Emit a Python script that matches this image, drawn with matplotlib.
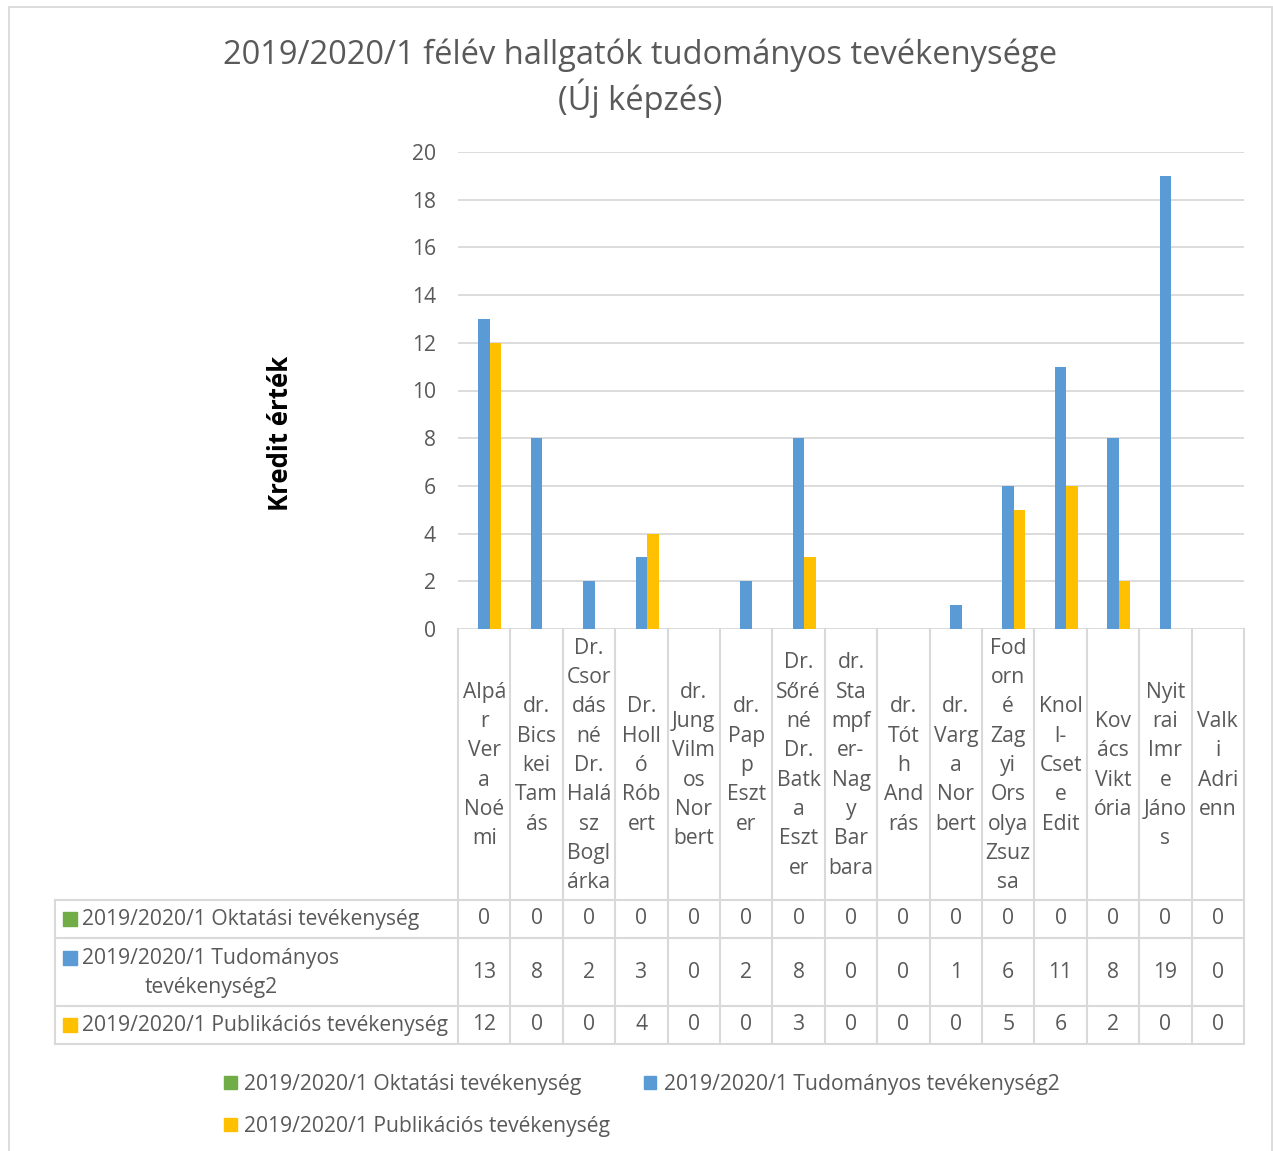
import matplotlib
matplotlib.use("Agg")
import matplotlib.pyplot as plt
from matplotlib.patches import Rectangle, Patch
import numpy as np

plt.rcParams['font.family'] = ['Open Sans', 'DejaVu Sans']

# ---------------- data ----------------
categories = [
    "Alpá\nr\nVer\na\nNoé\nmi",
    "dr.\nBics\nkei\nTam\nás",
    "Dr.\nCsor\ndás\nné\nDr.\nHalá\nsz\nBogl\nárka",
    "Dr.\nHoll\nó\nRób\nert",
    "dr.\nJung\nVilm\nos\nNor\nbert",
    "dr.\nPap\np\nEszt\ner",
    "Dr.\nSőré\nné\nDr.\nBatk\na\nEszt\ner",
    "dr.\nSta\nmpf\ner-\nNag\ny\nBar\nbara",
    "dr.\nTót\nh\nAnd\nrás",
    "dr.\nVarg\na\nNor\nbert",
    "Fod\norn\né\nZag\nyi\nOrs\nolya\nZsuz\nsa",
    "Knol\nl-\nCset\ne\nEdit",
    "Kov\nács\nVikt\nória",
    "Nyit\nrai\nImr\ne\nJáno\ns",
    "Valk\ni\nAdri\nenn",
]
oktatasi = [0, 0, 0, 0, 0, 0, 0, 0, 0, 0, 0, 0, 0, 0, 0]
tudomanyos = [13, 8, 2, 3, 0, 2, 8, 0, 0, 1, 6, 11, 8, 19, 0]
publikacios = [12, 0, 0, 4, 0, 0, 3, 0, 0, 0, 5, 6, 2, 0, 0]
series_names = ["2019/2020/1 Oktatási tevékenység",
                "2019/2020/1 Tudományos tevékenység2",
                "2019/2020/1 Publikációs tevékenység"]
table_labels = ["2019/2020/1 Oktatási tevékenység",
                "2019/2020/1 Tudományos\ntevékenység2",
                "2019/2020/1 Publikációs tevékenység"]
title = "2019/2020/1 félév hallgatók tudományos tevékenysége\n(Új képzés)"
ylabel = "Kredit érték"
yticks = [0, 2, 4, 6, 8, 10, 12, 14, 16, 18, 20]

colors = ["#70AD47", "#5B9BD5", "#FFC000"]
TXT = "#595959"
GRID = "#D9D9D9"
FS = 15.2

W, H = 1273, 1151
fig = plt.figure(figsize=(W / 100, H / 100), dpi=100)

def fx(px):
    return px / W

def fy(py):
    return 1 - py / H

# outer border
fig.patches.append(Rectangle((fx(9), fy(1160)), fx(1272) - fx(9), fy(7) - fy(1160),
                             transform=fig.transFigure, fill=False,
                             edgecolor=GRID, lw=1.3))

# ---------------- main chart ----------------
L, R, T, B = 458, 1244, 152, 629
ax = fig.add_axes([fx(L), fy(B), fx(R) - fx(L), fy(T) - fy(B)])
n = len(categories)
x = np.arange(n)
bw = 0.22
for i, (vals, c) in enumerate(zip([oktatasi, tudomanyos, publikacios], colors)):
    ax.bar(x + (i - 1) * bw, vals, width=bw, color=c, zorder=3)
ax.set_xlim(-0.5, n - 0.5)
ax.set_ylim(0, 20)
ax.set_yticks(yticks)
ax.yaxis.grid(True, color=GRID, lw=1.3, zorder=0)
ax.set_axisbelow(True)
for s in ax.spines.values():
    s.set_visible(False)
ax.tick_params(axis='y', length=0, labelsize=FS, labelcolor=TXT, pad=16)
ax.tick_params(axis='x', length=0, labelbottom=False)

fig.text(fx(281), fy(433), ylabel, rotation=90, ha='center', va='center',
         fontsize=18.5, fontweight='bold', color='black')
fig.text(fx(640), fy(78), title, ha='center', va='center', fontsize=23.5,
         color=TXT, linespacing=1.2)

# ---------------- data table ----------------
u = (R - L) / n
TL = 55
TB = 1044
axt = fig.add_axes([fx(TL), fy(TB), fx(R) - fx(TL), fy(B) - fy(TB)])
xl = -0.5 - (L - TL) / u
axt.set_xlim(xl, n - 0.5)
axt.set_ylim(TB - B, 0)
axt.axis('off')

def px2u(px):
    return -0.5 + (px - L) / u

rows = [0, 271, 309, 377, 415]
for b in np.arange(n + 1) - 0.5:
    axt.plot([b, b], [0, rows[-1]], color=GRID, lw=1.5, clip_on=False)
axt.plot([xl, xl], [rows[1], rows[-1]], color=GRID, lw=1.5, clip_on=False)
for r in rows[1:]:
    axt.plot([xl, n - 0.5], [r, r], color=GRID, lw=1.5, clip_on=False)

for i, lab in enumerate(categories):
    axt.text(i, (rows[0] + rows[1]) / 2 + 1, lab, ha='center', va='center',
             fontsize=FS, color=TXT, linespacing=1.52)

for k, vals in enumerate([oktatasi, tudomanyos, publikacios]):
    yc = (rows[k + 1] + rows[k + 2]) / 2
    for i, v in enumerate(vals):
        axt.text(i, yc, str(v), ha='center', va='center', fontsize=FS, color=TXT)

# header column
hdr_y = [919 - B, 958 - B, 1025 - B]
axt.scatter([px2u(70)] * 3, hdr_y, marker='s', s=100, c=colors, clip_on=False)
axt.text(px2u(82), (rows[1] + rows[2]) / 2, table_labels[0], ha='left', va='center',
         fontsize=FS, color=TXT)
axt.text(px2u(211), (rows[2] + rows[3]) / 2 + 1, table_labels[1], ha='center', va='center',
         fontsize=FS, color=TXT, multialignment='center', linespacing=1.5)
axt.text(px2u(82), (rows[3] + rows[4]) / 2, table_labels[2], ha='left', va='center',
         fontsize=FS, color=TXT)

# ---------------- legend ----------------
handles = [Patch(color=colors[0], label=series_names[0]),
           Patch(color=colors[2], label=series_names[2]),
           Patch(color=colors[1], label=series_names[1])]
fig.legend(handles=handles, ncol=2, frameon=False, loc='upper left',
           bbox_to_anchor=(fx(207), fy(1057)), fontsize=FS,
           handlelength=0.6, handleheight=0.6, handletextpad=0.35,
           columnspacing=1.6, labelspacing=1.0, labelcolor=TXT, borderpad=0.3)

fig.savefig("out.png", dpi=100)
